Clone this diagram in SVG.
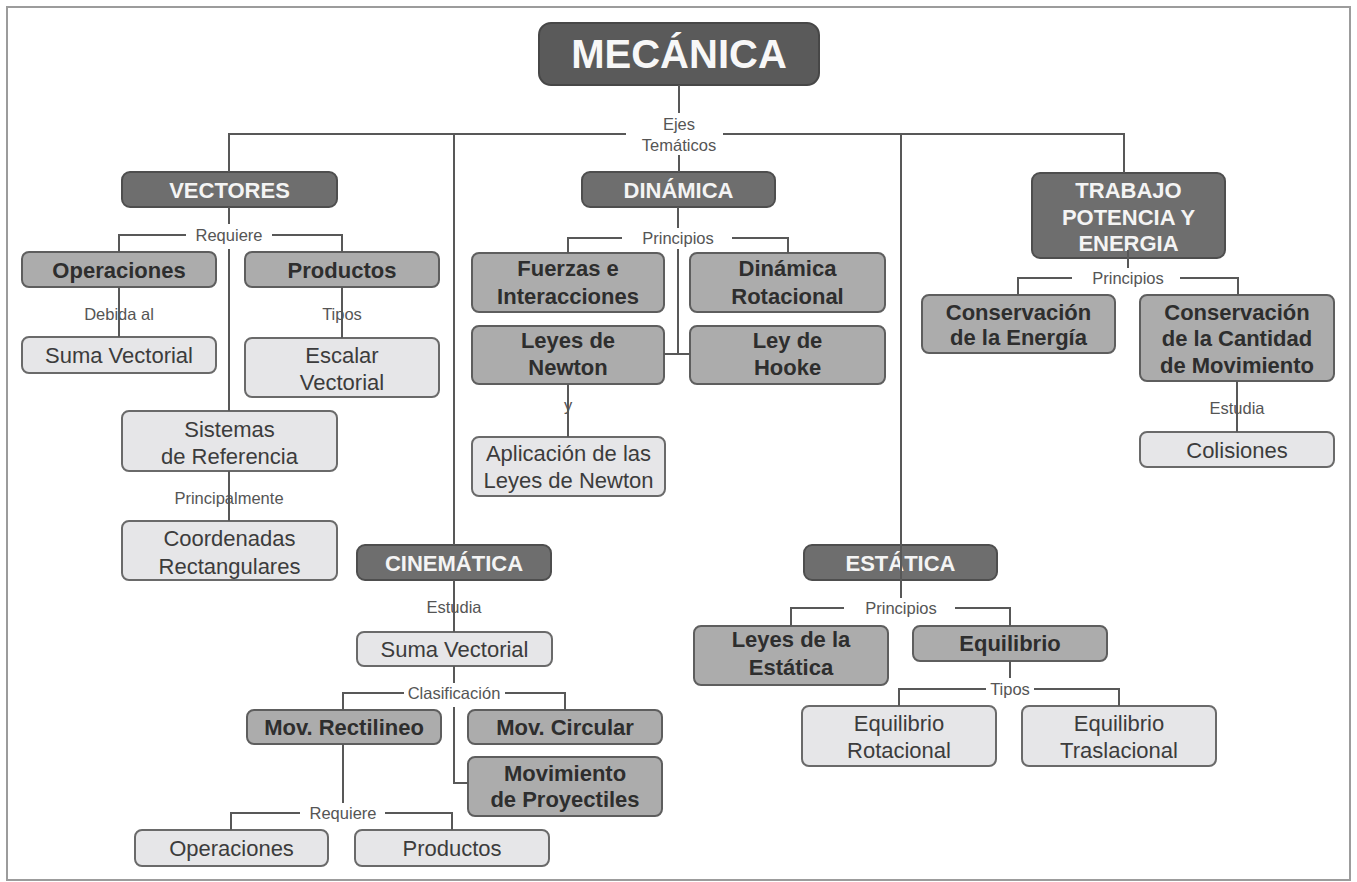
<svg xmlns="http://www.w3.org/2000/svg" width="1357" height="882" viewBox="0 0 1357 882">
<style>
.frame{fill:#ffffff;stroke:#9c9c9c;stroke-width:2}
.root rect{fill:#5a5a5a;stroke:#474747;stroke-width:2}
.main rect{fill:#6e6e6e;stroke:#4e4e4e;stroke-width:2}
.mid rect{fill:#acacac;stroke:#5e5e5e;stroke-width:2}
.light rect{fill:#e6e6e8;stroke:#6a6a6a;stroke-width:2}
text{font-family:"Liberation Sans",Arial,sans-serif;text-anchor:middle}
.root text{font-size:40px;font-weight:bold;fill:#f7f7f7}
.main text{font-size:22px;font-weight:bold;fill:#f4f4f4}
.mid text{font-size:22px;font-weight:bold;fill:#2e2e2e}
.light text{font-size:22px;fill:#3c3c3c}
.lbl{font-size:16.5px;fill:#555555}
.conn path{fill:none;stroke:#585858;stroke-width:2}
</style>
<rect class="frame" x="7" y="7" width="1343" height="873"/>

<g id="mecanica" class="root"><rect x="539" y="23" width="280" height="62" rx="12"/><text x="679" y="68">MECÁNICA</text></g>

<g id="vectores" class="main"><rect x="122" y="172" width="215" height="35" rx="8"/><text x="229.5" y="197.5">VECTORES</text></g>
<g id="dinamica" class="main"><rect x="582" y="172" width="193" height="35" rx="8"/><text x="678.5" y="197.5">DINÁMICA</text></g>
<g id="trabajo" class="main"><rect x="1032" y="173" width="193" height="85" rx="8"/><text x="1128.5" y="198">TRABAJO</text><text x="1128.5" y="225">POTENCIA Y</text><text x="1128.5" y="251">ENERGIA</text></g>
<g id="cinematica" class="main"><rect x="357" y="545" width="194" height="35" rx="8"/><text x="454" y="570.5">CINEMÁTICA</text></g>
<g id="estatica" class="main"><rect x="804" y="545" width="193" height="35" rx="8"/><text x="900.5" y="570.5">ESTÁTICA</text></g>

<g id="operaciones1" class="mid"><rect x="22" y="252" width="194" height="35" rx="7"/><text x="119" y="277.5">Operaciones</text></g>
<g id="productos1" class="mid"><rect x="245" y="252" width="194" height="35" rx="7"/><text x="342" y="277.5">Productos</text></g>
<g id="suma1" class="light"><rect x="22" y="337" width="194" height="36" rx="7"/><text x="119" y="363">Suma Vectorial</text></g>
<g id="escalar" class="light"><rect x="245" y="338" width="194" height="59" rx="7"/><text x="342" y="363">Escalar</text><text x="342" y="390">Vectorial</text></g>
<g id="sistemas" class="light"><rect x="122" y="411" width="215" height="60" rx="7"/><text x="229.5" y="437">Sistemas</text><text x="229.5" y="464">de Referencia</text></g>
<g id="coordenadas" class="light"><rect x="122" y="521" width="215" height="59" rx="7"/><text x="229.5" y="546">Coordenadas</text><text x="229.5" y="574">Rectangulares</text></g>

<g id="fuerzas" class="mid"><rect x="472" y="253" width="192" height="59" rx="7"/><text x="568" y="276">Fuerzas e</text><text x="568" y="304">Interacciones</text></g>
<g id="dinrot" class="mid"><rect x="690" y="253" width="195" height="59" rx="7"/><text x="787.5" y="276">Dinámica</text><text x="787.5" y="304">Rotacional</text></g>
<g id="leyesnewton" class="mid"><rect x="472" y="326" width="192" height="58" rx="7"/><text x="568" y="348">Leyes de</text><text x="568" y="375">Newton</text></g>
<g id="hooke" class="mid"><rect x="690" y="326" width="195" height="58" rx="7"/><text x="787.5" y="348">Ley de</text><text x="787.5" y="375">Hooke</text></g>
<g id="aplicacion" class="light"><rect x="472" y="437" width="193" height="59" rx="7"/><text x="568.5" y="461">Aplicación de las</text><text x="568.5" y="488">Leyes de Newton</text></g>

<g id="consenergia" class="mid"><rect x="922" y="295" width="193" height="58" rx="7"/><text x="1018.5" y="320">Conservación</text><text x="1018.5" y="345">de la Energía</text></g>
<g id="conscantidad" class="mid"><rect x="1140" y="295" width="194" height="86" rx="7"/><text x="1237" y="320">Conservación</text><text x="1237" y="346">de la Cantidad</text><text x="1237" y="373">de Movimiento</text></g>
<g id="colisiones" class="light"><rect x="1140" y="432" width="194" height="35" rx="7"/><text x="1237" y="458">Colisiones</text></g>

<g id="suma2" class="light"><rect x="357" y="632" width="195" height="34" rx="7"/><text x="454.5" y="657">Suma Vectorial</text></g>
<g id="movrect" class="mid"><rect x="247" y="710" width="194" height="34" rx="7"/><text x="344" y="735">Mov. Rectilineo</text></g>
<g id="movcirc" class="mid"><rect x="468" y="710" width="194" height="34" rx="7"/><text x="565" y="735">Mov. Circular</text></g>
<g id="movproy" class="mid"><rect x="468" y="757" width="194" height="59" rx="7"/><text x="565" y="781">Movimiento</text><text x="565" y="807">de Proyectiles</text></g>
<g id="operaciones2" class="light"><rect x="135" y="830" width="193" height="36" rx="7"/><text x="231.5" y="856">Operaciones</text></g>
<g id="productos2" class="light"><rect x="355" y="830" width="194" height="36" rx="7"/><text x="452" y="856">Productos</text></g>

<g id="leyesestatica" class="mid"><rect x="694" y="626" width="194" height="59" rx="7"/><text x="791" y="647">Leyes de la</text><text x="791" y="675">Estática</text></g>
<g id="equilibrio" class="mid"><rect x="913" y="626" width="194" height="35" rx="7"/><text x="1010" y="651">Equilibrio</text></g>
<g id="eqrot" class="light"><rect x="802" y="706" width="194" height="60" rx="7"/><text x="899" y="731">Equilibrio</text><text x="899" y="758">Rotacional</text></g>
<g id="eqtras" class="light"><rect x="1022" y="706" width="194" height="60" rx="7"/><text x="1119" y="731">Equilibrio</text><text x="1119" y="758">Traslacional</text></g>

<g id="connectors" class="conn">
<path d="M679,85 V113 M679,155 V172"/>
<path d="M229,172 V134 H626 M723,134 H1124 V173"/>
<path d="M454,134 V545 M454,580 V632"/>
<path d="M901,134 V598"/>
<path d="M229,207 V224 M229,249 V411"/>
<path d="M119,252 V235 H186 M272,235 H342 V252"/>
<path d="M119,287 V337 M342,287 V338 M229,471 V521"/>
<path d="M678,207 V228 M678,249 V354 M664,354 H690"/>
<path d="M568,253 V238 H622 M732,238 H788 V253"/>
<path d="M568,384 V437"/>
<path d="M1128,250 V268 M1018,295 V278 H1072 M1180,278 H1238 V295"/>
<path d="M1237,381 V432"/>
<path d="M454,666 V683 M454,707 V783 H468"/>
<path d="M343,710 V693 H404 M505,693 H565 V710"/>
<path d="M343,744 V803 M231,830 V813 H300 M385,813 H452 V830"/>
<path d="M791,626 V608 H844 M955,608 H1010 V626"/>
<path d="M1010,661 V678 M899,706 V689 H986 M1034,689 H1119 V706"/>
</g>

<g id="labels">
<text class="lbl" x="679" y="130">Ejes</text>
<text class="lbl" x="679" y="151">Temáticos</text>
<text class="lbl" x="229" y="241">Requiere</text>
<text class="lbl" x="119" y="320">Debida al</text>
<text class="lbl" x="342" y="320">Tipos</text>
<text class="lbl" x="229" y="504">Principalmente</text>
<text class="lbl" x="678" y="244">Principios</text>
<text class="lbl" x="568" y="411">y</text>
<text class="lbl" x="1128" y="284">Principios</text>
<text class="lbl" x="1237" y="414">Estudia</text>
<text class="lbl" x="454" y="613">Estudia</text>
<text class="lbl" x="454" y="699">Clasificación</text>
<text class="lbl" x="343" y="819">Requiere</text>
<text class="lbl" x="901" y="614">Principios</text>
<text class="lbl" x="1010" y="695">Tipos</text>
</g>
</svg>
